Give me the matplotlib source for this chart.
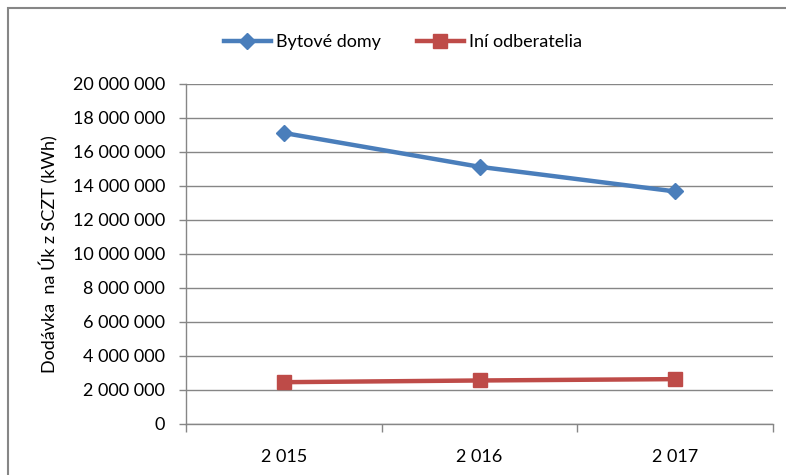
import matplotlib
matplotlib.use("Agg")
import matplotlib.pyplot as plt
from matplotlib.patches import Rectangle
from matplotlib.ticker import FuncFormatter, FixedLocator

years = ["2 015", "2 016", "2 017"]
bytove_domy = [17120000, 15130000, 13680000]
ini_odberatelia = [2460000, 2560000, 2640000]
y_ticks = list(range(0, 20000001, 2000000))

plt.rcParams['font.family'] = ['Lato', 'DejaVu Sans']
FS = 13

fig = plt.figure(figsize=(7.86, 4.75), dpi=100)
ax = fig.add_axes([186/786, 1-424/475, (773-186)/786, (424-84)/475])

x = list(range(len(years)))
ax.plot(x, bytove_domy, color='#4A7EBB', lw=3.2, marker='D', ms=8.5, label='Bytové domy', zorder=3)
ax.plot(x, ini_odberatelia, color='#BE4B48', lw=3.2, marker='s', ms=9.5, label='Iní odberatelia', zorder=3)

ax.set_xlim(-0.5, 2.5)
ax.set_ylim(0, 20000000)
ax.yaxis.set_major_locator(FixedLocator(y_ticks))
ax.yaxis.set_major_formatter(FuncFormatter(lambda v, p: f"{int(v):,}".replace(",", " ")))
ax.set_xticks([-0.5, 0.5, 1.5, 2.5])
ax.set_xticklabels([])
ax.set_xticks(x, minor=True)
ax.set_xticklabels(years, minor=True)
ax.tick_params(axis='x', which='major', length=6, color='#868686', width=1)
ax.tick_params(axis='x', which='minor', length=0, pad=18, labelsize=FS)
ax.tick_params(axis='y', length=5, color='#868686', width=1, labelsize=FS, pad=10)

ax.grid(axis='y', color='#868686', lw=1)
ax.set_axisbelow(True)
for s in ['top', 'right']:
    ax.spines[s].set_visible(False)
for s in ['left', 'bottom']:
    ax.spines[s].set_color('#868686')
    ax.spines[s].set_linewidth(1)

ax.set_ylabel('Dodávka  na Úk z SCZT (kWh)', fontsize=FS, labelpad=10)

ax.legend(loc='center', bbox_to_anchor=(403/786, 1-42/475), bbox_transform=fig.transFigure,
          ncol=2, frameon=False, fontsize=FS, handlelength=2.6, columnspacing=2.0, handletextpad=0.3)

fig.patches.append(Rectangle((8/786, -0.1), 1.2, 1.1 - 8/475, transform=fig.transFigure,
                             fill=False, edgecolor='#868686', lw=1.5))

fig.savefig('out.png', dpi=100)
